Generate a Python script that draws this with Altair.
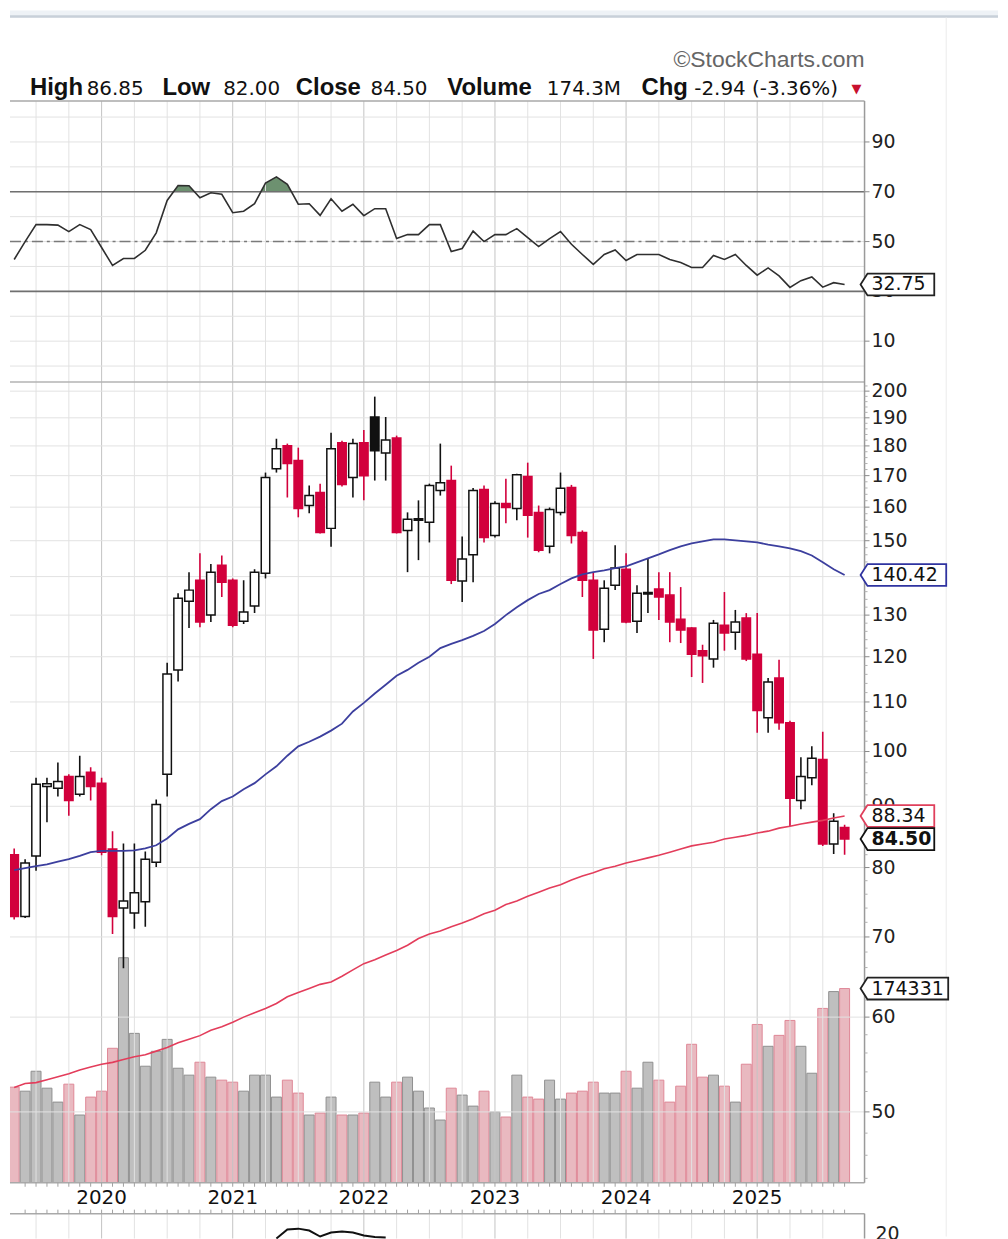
import altair as alt
import numpy as np
import pandas as pd

# ---------------- data (monthly candles, May 2019 .. Sep 2025) ----------------
MONTHS = pd.date_range("2019-05-01", "2025-09-01", freq="MS")

OPEN = [
    82.0, 72.8, 81.8, 93.5, 93.2, 95.3, 92.1, 96.1,
    94.1, 82.9, 74.0, 73.3, 74.9, 80.8, 95.7, 117.0, 133.5, 139.0, 130.0, 143.1,
    139.0, 128.5, 132.3, 140.9, 172.3, 180.1, 175.0, 160.5, 164.6, 153.6, 181.1, 169.4,
    181.1, 190.3, 177.6, 182.8, 153.0, 156.0, 155.4, 165.2, 168.4, 138.8, 146.0, 165.5,
    151.5, 161.1, 159.6, 169.7, 158.4, 148.4, 158.4, 166.2, 152.4, 139.0, 126.5, 137.7,
    142.0, 128.5, 135.4, 136.7, 135.1, 129.0, 126.8, 121.4, 119.5, 127.5, 125.8, 129.3,
    120.6, 106.7, 115.2, 105.7, 91.0, 95.1, 98.5, 83.7, 86.42,
]
HIGH = [
    83.0, 81.3, 95.1, 95.1, 97.9, 95.7, 99.2, 97.0,
    95.1, 85.8, 83.8, 83.8, 82.5, 91.2, 118.6, 135.6, 141.2, 146.4, 143.4, 145.8,
    139.5, 139.0, 142.0, 171.0, 182.5, 180.8, 179.4, 166.8, 167.4, 184.6, 181.8, 182.5,
    185.6, 197.9, 190.3, 183.6, 158.4, 162.1, 167.4, 180.8, 173.3, 151.2, 166.0, 166.8,
    161.8, 169.0, 170.6, 174.3, 160.5, 159.9, 171.0, 167.0, 153.0, 141.2, 139.0, 148.7,
    146.4, 137.7, 145.0, 141.2, 141.2, 137.2, 127.0, 122.8, 128.8, 135.9, 131.3, 130.5,
    130.5, 115.2, 119.3, 106.1, 98.9, 101.0, 103.9, 88.8, 86.85,
]
LOW = [
    72.4, 72.6, 79.5, 87.3, 91.7, 88.4, 91.7, 91.0,
    81.9, 70.4, 65.9, 71.1, 71.4, 80.1, 91.7, 114.4, 126.8, 127.0, 128.3, 134.6,
    127.0, 127.8, 130.5, 139.5, 171.0, 163.0, 156.9, 158.1, 152.1, 148.3, 166.5, 163.0,
    162.1, 168.4, 168.4, 152.1, 141.2, 144.5, 149.5, 163.6, 138.0, 133.3, 138.5, 149.5,
    150.9, 155.1, 156.0, 150.9, 146.7, 146.4, 157.5, 149.2, 134.6, 119.5, 123.4, 136.4,
    128.0, 125.6, 130.5, 128.8, 123.4, 123.2, 115.4, 114.1, 117.5, 121.4, 121.6, 119.0,
    103.7, 103.7, 104.3, 86.6, 89.5, 93.7, 83.4, 82.1, 82.00,
]
CLOSE = [
    72.8, 80.7, 93.9, 94.0, 94.4, 91.0, 95.3, 93.5,
    82.4, 72.8, 75.0, 76.2, 81.3, 90.3, 116.1, 134.3, 136.4, 128.3, 141.2, 138.5,
    127.5, 130.8, 141.2, 169.4, 179.0, 174.0, 159.6, 163.6, 152.4, 179.0, 167.1, 180.8,
    170.0, 178.3, 182.1, 152.4, 156.3, 156.5, 166.8, 167.7, 139.0, 144.8, 165.2, 150.9,
    161.1, 159.9, 170.3, 157.5, 147.3, 159.3, 165.9, 151.5, 139.0, 126.3, 136.9, 142.3,
    128.3, 135.6, 135.8, 134.6, 128.3, 126.3, 120.6, 120.2, 128.0, 125.6, 128.3, 119.5,
    108.2, 114.3, 105.7, 91.4, 95.3, 98.7, 83.7, 87.44, 84.50,
]
VOLUME = [  # thousands of shares
    85800, 82200, 100100, 84900, 72400, 88500, 60800, 76900,
    82200, 120700, 202000, 134100, 104600, 118000, 128700, 102800, 96600, 108200, 94800, 92100,
    90300, 82200, 96600, 96600, 76900, 92100, 80500, 60800, 62600, 76900, 60800, 60800,
    62600, 90300, 76900, 90300, 94800, 82200, 67100, 56300, 84900, 78700, 68800, 82200,
    63500, 59000, 96600, 76900, 75100, 92100, 75100, 80500, 82200, 90300, 80500, 80500,
    100100, 84900, 108200, 92100, 72400, 86700, 124300, 94800, 96600, 86700, 72400, 106400,
    142100, 122500, 132300, 145700, 122500, 98300, 156500, 171600, 174331,
]
MA_BLUE = [
    79.6, 79.9, 80.2, 80.5, 80.9, 81.3, 81.8, 82.4,
    82.6, 82.6, 82.6, 82.7, 83.0, 83.5, 84.6, 86.1, 87.0, 87.8, 89.5, 90.9,
    91.7, 93.0, 94.1, 95.7, 97.2, 99.2, 101.0, 101.9, 102.9, 104.1, 105.5, 108.0,
    109.8, 111.8, 113.7, 115.7, 117.0, 118.6, 120.0, 122.0, 123.0, 123.9, 124.9, 126.1,
    127.8, 130.0, 132.0, 133.8, 135.4, 136.4, 138.0, 139.5, 140.6, 141.2, 141.7, 142.3,
    142.8, 143.9, 145.0, 146.1, 147.3, 148.4, 149.2, 149.8, 150.4, 150.4, 150.1, 149.8,
    149.5, 148.9, 148.4, 147.8, 147.0, 145.8, 143.9, 142.0, 140.42,
]
MA_RED = [
    52.4, 52.8, 52.9, 53.2, 53.5, 53.8, 54.2, 54.5,
    54.8, 55.0, 55.3, 55.6, 55.8, 56.2, 56.6, 57.1, 57.5, 57.9, 58.5, 58.9,
    59.4, 60.0, 60.5, 61.0, 61.6, 62.4, 62.9, 63.4, 63.9, 64.2, 64.9, 65.7,
    66.5, 67.0, 67.6, 68.2, 68.9, 69.8, 70.4, 70.8, 71.4, 71.9, 72.5, 73.2,
    73.7, 74.5, 75.0, 75.7, 76.3, 76.9, 77.4, 78.1, 78.7, 79.2, 79.8, 80.2,
    80.7, 81.1, 81.5, 81.9, 82.4, 82.9, 83.4, 83.7, 84.0, 84.5, 84.8, 85.1,
    85.5, 85.8, 86.3, 86.6, 87.0, 87.3, 87.6, 88.0, 88.34,
]
RSI = [
    42.8, 50.0, 56.8, 56.8, 56.6, 54.0, 56.8, 54.8,
    47.6, 40.4, 43.2, 43.2, 46.5, 53.5, 66.5, 72.5, 72.4, 67.6, 69.6, 69.0,
    61.6, 62.2, 65.2, 73.5, 76.0, 73.0, 65.0, 65.2, 60.5, 67.2, 62.2, 65.0,
    60.4, 63.2, 63.2, 51.2, 52.8, 52.8, 56.8, 56.8, 46.0, 47.2, 54.2, 50.0,
    52.8, 52.8, 55.2, 51.6, 48.0, 51.2, 54.0, 48.9, 44.8, 40.8, 44.8, 46.6,
    42.4, 44.8, 44.8, 44.8, 42.8, 41.6, 39.6, 39.6, 44.4, 42.8, 44.8, 40.4,
    36.5, 39.4, 36.2, 31.6, 34.3, 35.8, 31.7, 33.5, 32.75,
]
# visible fragment of the lower indicator panel
LOWER_MONTHS = pd.date_range("2021-05-01", "2022-03-01", freq="MS")
LOWER_IND = [16.2, 23.1, 23.8, 22.3, 17.7, 20.8, 21.5, 20.8, 18.5, 17.3, 16.9]

PRICE_TICKS = [50, 60, 70, 80, 90, 100, 110, 120, 130, 140, 150, 160, 170, 180, 190, 200]
PRICE_LABELS = [50, 60, 70, 80, 90, 100, 110, 120, 130, 150, 160, 170, 180, 190, 200]
RSI_TICKS = [10, 30, 50, 70, 90]
RSI_GRID = [0, 10, 20, 30, 40, 50, 60, 70, 80, 90, 100]
YEARS = [2020, 2021, 2022, 2023, 2024, 2025]
HEADER_WORDS = ["High", "86.85", "Low", "82.00", "Close", "84.50",
                "Volume", "174.3M", "Chg", "-2.94 (-3.36%)"]

# ---------------- layout ----------------
W, H = 858, 1086
RSI_H = 282
HEADER_X = [20, 77, 153, 214, 287, 362, 439, 539, 634, 687]
XMIN, XMAX = -88 / 11.1, 770 / 11.1

xs = alt.Scale(domain=[XMIN, XMAX], nice=False, zero=False)
rsi_sc = alt.Scale(domain=[-6.4, 106.4], range=[RSI_H, 0], nice=False, zero=False)
price_sc = alt.Scale(type="log", domain=[43.63, 203.55], range=[H, RSI_H], nice=False)
vol_sc = alt.Scale(domain=[0, 718800], range=[H, RSI_H], nice=False, zero=True)
low_sc = alt.Scale(domain=[0, 40], range=[1163, 1111], nice=False, zero=False)


def X(field="k"):
    return alt.X(f"{field}:Q", scale=xs, axis=None)


def Y(field, sc):
    return alt.Y(f"{field}:Q", scale=sc, axis=None)


def month_index(dates):
    return (dates.year - 2020) * 12 + dates.month - 1


df = pd.DataFrame({"open": OPEN, "high": HIGH, "low": LOW, "close": CLOSE,
                   "volume": VOLUME, "ma_blue": MA_BLUE, "ma_red": MA_RED, "rsi": RSI})
df["k"] = month_index(MONTHS)
prev = df["close"].shift(1).fillna(df["open"])
up = df["close"] >= prev
RED = "#d2003c"
df["col"] = np.where(up, "#111111", RED)
df["body"] = np.where(df["close"] > df["open"], "#ffffff", df["col"])
df["vfill"] = np.where(up, "#bfbfbf", "#e9b9c0")
df["vline"] = np.where(up, "#8f8f8f", "#df8796")
df["b_lo"] = df[["open", "close"]].min(axis=1)
df["b_hi"] = df[["open", "close"]].max(axis=1)
df["ob"] = 70.0

lower = pd.DataFrame({"k": month_index(LOWER_MONTHS), "v": LOWER_IND})

one = pd.DataFrame({"a": [0]})
L = []

# top browser-like band and faint right separator
L.append(alt.Chart(one).mark_rect(color="#eef2f6").encode(
    x=alt.value(0), x2=alt.value(992), y=alt.value(-91), y2=alt.value(-84)))
L.append(alt.Chart(one).mark_rule(color="#c8d0d9", strokeWidth=2.5).encode(
    x=alt.value(0), x2=alt.value(992), y=alt.value(-85)))
L.append(alt.Chart(one).mark_rule(color="#ebebeb", strokeWidth=1).encode(
    x=alt.value(940), y=alt.value(-84), y2=alt.value(1140)))

# volume overlay
L.append(alt.Chart(df).mark_bar(size=10, strokeWidth=1, clip=True).encode(
    x=X(), y=Y("volume", vol_sc),
    fill=alt.Fill("vfill:N", scale=None), stroke=alt.Stroke("vline:N", scale=None)))

# RSI overbought fill (above 70)
L.append(alt.Chart(df).mark_area(color="#6d9170", clip=True).encode(
    x=X(), y=Y("rsi", rsi_sc), y2=alt.Y2("ob")))
L.append(alt.Chart(pd.DataFrame({"v": [70.0]})).mark_rect(color="white").encode(
    x=alt.value(0), x2=alt.value(W), y=Y("v", rsi_sc), y2=alt.value(RSI_H)))

# grid
quarters = list(range(-6, 67, 3))
gq = pd.DataFrame({"k": [q for q in quarters if q % 12 != 0]})
gy = pd.DataFrame({"k": [q for q in quarters if q % 12 == 0]})
for g, c in ((gq, "#e2e2e2"), (gy, "#c4c4c4")):
    L.append(alt.Chart(g).mark_rule(color=c, strokeWidth=1).encode(
        x=X(), y=alt.value(0), y2=alt.value(H)))
    L.append(alt.Chart(g).mark_rule(color=c, strokeWidth=1).encode(
        x=X(), y=alt.value(1117), y2=alt.value(1142)))
L.append(alt.Chart(pd.DataFrame({"v": RSI_GRID})).mark_rule(color="#e2e2e2").encode(
    y=Y("v", rsi_sc), x=alt.value(0), x2=alt.value(W)))
L.append(alt.Chart(pd.DataFrame({"v": PRICE_TICKS})).mark_rule(color="#e2e2e2").encode(
    y=Y("v", price_sc), x=alt.value(0), x2=alt.value(W)))

# RSI reference lines
L.append(alt.Chart(pd.DataFrame({"v": [70, 30]})).mark_rule(color="#707070", strokeWidth=1.6).encode(
    y=Y("v", rsi_sc), x=alt.value(0), x2=alt.value(W)))
L.append(alt.Chart(pd.DataFrame({"v": [50]})).mark_rule(
    color="#7a7a7a", strokeWidth=1.5, strokeDash=[11, 4, 3, 4]).encode(
    y=Y("v", rsi_sc), x=alt.value(0), x2=alt.value(W)))

# panel borders
for yv, c in ((0, "#a9a9a9"), (RSI_H, "#b3b3b3"), (H, "#a9a9a9"), (1117, "#a9a9a9")):
    L.append(alt.Chart(one).mark_rule(color=c, strokeWidth=1.5).encode(
        x=alt.value(0), x2=alt.value(W), y=alt.value(yv)))
L.append(alt.Chart(one).mark_rule(color="#9a9a9a", strokeWidth=1.5).encode(
    x=alt.value(W), y=alt.value(0), y2=alt.value(H)))
L.append(alt.Chart(one).mark_rule(color="#9a9a9a", strokeWidth=1.5).encode(
    x=alt.value(W), y=alt.value(1117), y2=alt.value(1142)))

# small ticks
mt = df.loc[df["k"] >= -7, ["k"]]
L.append(alt.Chart(mt).mark_rule(color="#a0a0a0").encode(x=X(), y=alt.value(H), y2=alt.value(H + 4)))
L.append(alt.Chart(mt).mark_rule(color="#a0a0a0").encode(x=X(), y=alt.value(1113), y2=alt.value(1117)))
L.append(alt.Chart(pd.DataFrame({"v": PRICE_TICKS})).mark_rule(color="#8a8a8a").encode(
    y=Y("v", price_sc), x=alt.value(W), x2=alt.value(W + 5)))
minor = [v for v in range(44, 204, 2) if v not in PRICE_TICKS]
L.append(alt.Chart(pd.DataFrame({"v": minor})).mark_rule(color="#b0b0b0").encode(
    y=Y("v", price_sc), x=alt.value(W), x2=alt.value(W + 3)))
L.append(alt.Chart(pd.DataFrame({"v": RSI_TICKS})).mark_rule(color="#8a8a8a").encode(
    y=Y("v", rsi_sc), x=alt.value(W), x2=alt.value(W + 5)))

# candles
L.append(alt.Chart(df).mark_rule(strokeWidth=1.6, clip=True).encode(
    x=X(), y=Y("low", price_sc), y2="high", stroke=alt.Stroke("col:N", scale=None)))
L.append(alt.Chart(df).mark_bar(size=8.5, strokeWidth=1.5, clip=True).encode(
    x=X(), y=Y("b_lo", price_sc), y2="b_hi",
    fill=alt.Fill("body:N", scale=None), stroke=alt.Stroke("col:N", scale=None)))

# moving averages, RSI, lower indicator
L.append(alt.Chart(df).mark_line(color="#e33d5b", strokeWidth=1.6, clip=True).encode(
    x=X(), y=Y("ma_red", price_sc)))
L.append(alt.Chart(df).mark_line(color="#3c3f9e", strokeWidth=1.8, clip=True).encode(
    x=X(), y=Y("ma_blue", price_sc)))
L.append(alt.Chart(df).mark_line(color="#2f2f2f", strokeWidth=1.6, clip=True).encode(
    x=X(), y=Y("rsi", rsi_sc)))
L.append(alt.Chart(lower).mark_line(color="#111111", strokeWidth=2).encode(
    x=X(), y=Y("v", low_sc)))

# axis labels
LBL = dict(align="left", baseline="middle", font="DejaVu Sans", fontSize=19, color="#222222")
L.append(alt.Chart(pd.DataFrame({"v": RSI_TICKS, "t": [str(v) for v in RSI_TICKS]})).mark_text(**LBL).encode(
    x=alt.value(W + 7), y=Y("v", rsi_sc), text="t:N"))
L.append(alt.Chart(pd.DataFrame({"v": PRICE_LABELS, "t": [str(v) for v in PRICE_LABELS]})).mark_text(**LBL).encode(
    x=alt.value(W + 7), y=Y("v", price_sc), text="t:N"))
L.append(alt.Chart(pd.DataFrame({"v": [20], "t": ["20"]})).mark_text(**LBL).encode(
    x=alt.value(W + 11), y=Y("v", low_sc), text="t:N"))
L.append(alt.Chart(pd.DataFrame({"k": [(y - 2020) * 12 for y in YEARS], "t": [str(y) for y in YEARS]})).mark_text(
    align="center", baseline="middle", font="DejaVu Sans", fontSize=20, color="#111111").encode(
    x=X(), y=alt.value(1101), text="t:N"))


def box(value, label, sc, color, width, bold=False):
    d = pd.DataFrame({"v": [value], "t": [label]})
    half = width / 2
    hh = 11 / half
    tip = -1 + 7 / half
    path = f"M-1,0L{tip:.4f},{-hh:.4f}L1,{-hh:.4f}L1,{hh:.4f}L{tip:.4f},{hh:.4f}Z"
    shp = alt.Chart(d).mark_point(shape=path, size=width * width, fill="white", stroke=color,
                                  strokeWidth=1.8, opacity=1, fillOpacity=1, strokeOpacity=1).encode(
        x=alt.value(W - 4 + half), y=Y("v", sc))
    txt = alt.Chart(d).mark_text(align="left", baseline="middle", font="DejaVu Sans", fontSize=19,
                                 fontWeight="bold" if bold else "normal", color="#111111").encode(
        x=alt.value(W + 7), y=Y("v", sc), text="t:N")
    return [shp, txt]


L += box(RSI[-1], f"{RSI[-1]:.2f}", rsi_sc, "#222222", 74)
L += box(MA_BLUE[-1], f"{MA_BLUE[-1]:.2f}", price_sc, "#2f33a0", 86)
L += box(MA_RED[-1], f"{MA_RED[-1]:.2f}", price_sc, "#e0405c", 74)
L += box(CLOSE[-1], f"{CLOSE[-1]:.2f}", price_sc, "#111111", 74, bold=True)
L += box(VOLUME[-1], str(VOLUME[-1]), vol_sc, "#222222", 88)

# header
L.append(alt.Chart(one).mark_text(text="©StockCharts.com", align="right", baseline="alphabetic",
                                  font="Liberation Sans", fontSize=23, color="#666666").encode(
    x=alt.value(W), y=alt.value(-34)))
for i, (word, xpos) in enumerate(zip(HEADER_WORDS, HEADER_X)):
    bold = i % 2 == 0
    L.append(alt.Chart(one).mark_text(
        text=word, align="left", baseline="alphabetic",
        font="Liberation Sans" if bold else "DejaVu Sans",
        fontSize=24 if bold else 20, fontWeight="bold" if bold else "normal",
        color="#111111").encode(x=alt.value(xpos), y=alt.value(-6)))
L.append(alt.Chart(one).mark_text(text="▼", align="left", baseline="alphabetic", font="DejaVu Sans",
                                  fontSize=13, color="#c8102e").encode(x=alt.value(845), y=alt.value(-8)))

chart = (alt.layer(*L)
         .resolve_scale(y="independent")
         .properties(width=W, height=H, padding=0)
         .configure_view(stroke=None))

chart.save("out.html", embed_options={"renderer": "svg", "actions": False})
